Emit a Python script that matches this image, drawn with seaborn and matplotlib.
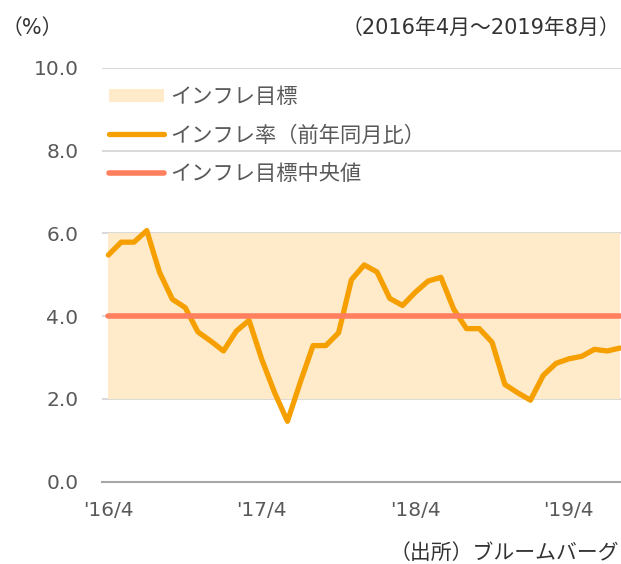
import matplotlib
matplotlib.use("Agg")
import matplotlib.pyplot as plt
import seaborn as sns
import numpy as np
import pandas as pd

# ---- data ----
months = [p.strftime("%Y/%m") for p in pd.period_range("2016-04", "2019-08", freq="M")]
inflation = [5.48, 5.79, 5.79, 6.07, 5.06, 4.41, 4.21, 3.62, 3.40, 3.16,
             3.64, 3.90, 2.95, 2.15, 1.46, 2.40, 3.29, 3.29, 3.60, 4.88,
             5.24, 5.07, 4.43, 4.26, 4.58, 4.85, 4.94, 4.17, 3.70, 3.70,
             3.37, 2.35, 2.15, 1.97, 2.57, 2.86, 2.97, 3.03, 3.20, 3.16,
             3.23]
target_low = 2.0
target_high = 6.0
target_mid = 4.0
tick_labels = ["'16/4", "'17/4", "'18/4", "'19/4"]
tick_positions = [0, 12, 24, 36]
y_ticks = [0, 2, 4, 6, 8, 10]

label_band = "インフレ目標"
label_rate = "インフレ率（前年同月比）"
label_mid = "インフレ目標中央値"

# ---- style ----
sns.set_theme(style="white")
plt.rcParams["font.family"] = ["DejaVu Sans", "Noto Sans CJK JP"]
TXT = "#595959"
FS = 14.5
FS_LEG = 15.3
FS_NOTE = 15

df = pd.DataFrame({"idx": np.arange(len(months)), "month": months,
                   "rate": inflation, "mid": [target_mid] * len(months)})

fig = plt.figure(figsize=(6.21, 5.64), dpi=100)
ax = fig.add_axes([102 / 621, (564 - 481.7) / 564, 1 - 102 / 621, (481.7 - 68) / 564])

band = ax.fill_between(df["idx"], target_low, target_high, color="#FFEBC9",
                       linewidth=0, zorder=1, label=label_band)
sns.lineplot(data=df, x="idx", y="rate", ax=ax, color="#F5A000", linewidth=3.8,
             solid_capstyle="round", solid_joinstyle="round", zorder=3,
             label=label_rate, legend=False)
sns.lineplot(data=df, x="idx", y="mid", ax=ax, color="#FF7F5E", linewidth=4.0,
             solid_capstyle="round", zorder=4, label=label_mid, legend=False)

ax.set_xlim(-0.47, 40.08)
ax.set_ylim(0, 10)
ax.set_yticks(y_ticks)
ax.set_yticklabels([f"{v:.1f}" for v in y_ticks])
ax.set_xticks(tick_positions)
ax.set_xticklabels(tick_labels)
ax.set_xticks([p - 0.5 for p in tick_positions], minor=True)
ax.tick_params(axis="x", which="major", length=0, pad=14, labelsize=FS, labelcolor=TXT)
ax.tick_params(axis="x", which="minor", length=6, width=1.3, color="#A6A6A6", direction="out")
ax.tick_params(axis="y", length=0, pad=17, labelsize=FS, labelcolor=TXT)
ax.set_xlabel("")
ax.set_ylabel("")

ax.set_axisbelow(True)
ax.yaxis.grid(True, color="#D9D9D9", linewidth=1.4)
ax.xaxis.grid(False)
for s in ["top", "right", "left"]:
    ax.spines[s].set_visible(False)
ax.spines["bottom"].set_color("#A6A6A6")
ax.spines["bottom"].set_linewidth(1.5)
ax.spines["bottom"].set_zorder(5)

handles, labels = ax.get_legend_handles_labels()
order = [labels.index(label_band), labels.index(label_rate), labels.index(label_mid)]
leg = ax.legend([handles[i] for i in order], [labels[i] for i in order],
                loc="upper left", bbox_to_anchor=(109 / 621, (564 - 87) / 564),
                bbox_transform=fig.transFigure, frameon=False, fontsize=FS_LEG,
                handlelength=2.6, handleheight=0.6, handletextpad=0.28,
                labelspacing=0.86, borderpad=0, borderaxespad=0)
for t in leg.get_texts():
    t.set_color(TXT)

fig.text(2 / 621, 1 - 28 / 564, "（%）", fontsize=FS_NOTE, color="#333333",
         ha="left", va="center")
fig.text(620 / 621, 1 - 28 / 564, "（2016年4月～2019年8月）", fontsize=FS_NOTE,
         color="#333333", ha="right", va="center")
fig.text(619 / 621, 1 - 553 / 564, "（出所）ブルームバーグ", fontsize=FS_NOTE,
         color="#333333", ha="right", va="center")

fig.savefig("out.png", dpi=100)
